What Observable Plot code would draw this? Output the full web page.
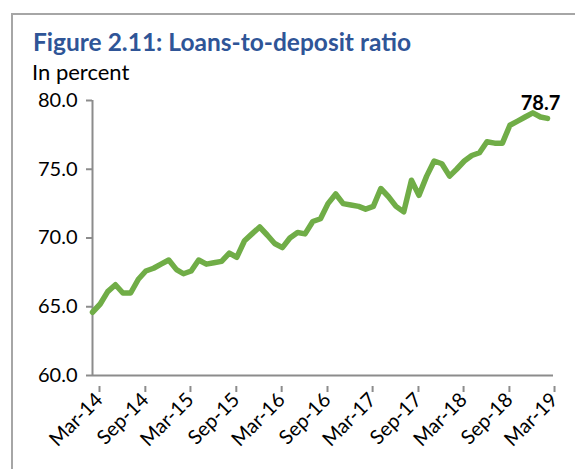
<!DOCTYPE html>
<html>
<head>
<meta charset="utf-8">
<script src="https://cdn.jsdelivr.net/npm/d3@7"></script>
<script src="https://cdn.jsdelivr.net/npm/@observablehq/plot@0.6"></script>
<style>
  html, body { margin: 0; padding: 0; background: #fff; width: 575px; height: 469px; overflow: hidden; }
  #frame { position: absolute; left: 11px; top: 13px; width: 620px; height: 520px; border: 2px solid #a6a6a6; box-sizing: border-box; }
  #title { position: absolute; left: 33px; top: 27px; font-family: Lato, sans-serif; font-weight: bold; font-size: 24.5px; color: #2F5597; white-space: nowrap; }
  #subtitle { position: absolute; left: 32px; top: 58px; font-family: Lato, sans-serif; font-size: 22px; color: #000; white-space: nowrap; }
  #chart { position: absolute; left: 0; top: 85px; }
</style>
</head>
<body>
<div id="frame"></div>
<div id="title">Figure 2.11: Loans-to-deposit ratio</div>
<div id="subtitle">In percent</div>
<div id="chart"></div>
<script>
// Monthly data, Mar-2014 .. Mar-2019
const startMonth = "2014-03";
const ratio = [
  64.6, 65.2, 66.1, 66.6, 66.0, 66.0, 67.0, 67.6, 67.8, 68.1, 68.4, 67.7,
  67.4, 67.6, 68.4, 68.1, 68.2, 68.3, 68.9, 68.6, 69.8, 70.3, 70.8, 70.2,
  69.6, 69.3, 70.0, 70.4, 70.3, 71.2, 71.4, 72.5, 73.2, 72.5, 72.4, 72.3,
  72.1, 72.3, 73.6, 73.0, 72.3, 71.9, 74.2, 73.1, 74.5, 75.6, 75.4, 74.5,
  75.0, 75.6, 76.0, 76.2, 77.0, 76.9, 76.9, 78.2, 78.5, 78.8, 79.1, 78.8,
  78.7
];
const yTicks = [60, 65, 70, 75, 80];
const xTickLabels = ["Mar-14","Sep-14","Mar-15","Sep-15","Mar-16","Sep-16","Mar-17","Sep-17","Mar-18","Sep-18","Mar-19"];
const endLabel = "78.7";

const parseMonth = d3.utcParse("%Y-%m");
const parseTick = d3.utcParse("%b-%y");
const t0 = parseMonth(startMonth);
const data = ratio.map((v, i) => ({date: d3.utcMonth.offset(t0, i), value: v}));
const xTicks = xTickLabels.map(s => parseTick(s));
const last = data[data.length - 1];
const xEnd = d3.utcDay.offset(last.date, 24);

const plot = Plot.plot({
  width: 575,
  height: 384,
  marginLeft: 92,
  marginRight: 22,
  marginTop: 15,
  marginBottom: 94,
  style: {fontFamily: "Lato, sans-serif", fontSize: "20px", color: "#000", background: "transparent", overflow: "visible"},
  x: {type: "utc", domain: [t0, xEnd]},
  y: {domain: [60, 80]},
  marks: [
    Plot.ruleY([60], {stroke: "#8c8c8c", strokeWidth: 2}),
    Plot.ruleX([t0], {stroke: "#8c8c8c", strokeWidth: 2}),
    Plot.axisY({ticks: yTicks, tickFormat: d3.format(".1f"), tickSize: 6, tickPadding: 9, stroke: "#8c8c8c", strokeWidth: 2, fill: "#000", label: null}),
    Plot.axisX({ticks: xTicks, tickFormat: d3.utcFormat("%b-%y"), tickSize: 6, tickPadding: 4, tickRotate: -45, stroke: "#8c8c8c", strokeWidth: 2, fill: "#000", label: null, dx: 7, dy: 11}),
    Plot.line(data, {x: "date", y: "value", stroke: "#70AD47", strokeWidth: 5.5, strokeLinejoin: "round", strokeLinecap: "round"}),
    Plot.text([last], {x: "date", y: "value", text: () => endLabel, fontWeight: "bold", fontSize: 20, dx: -7, dy: -15, fill: "#000"})
  ]
});
document.getElementById("chart").appendChild(plot);
</script>
</body>
</html>
